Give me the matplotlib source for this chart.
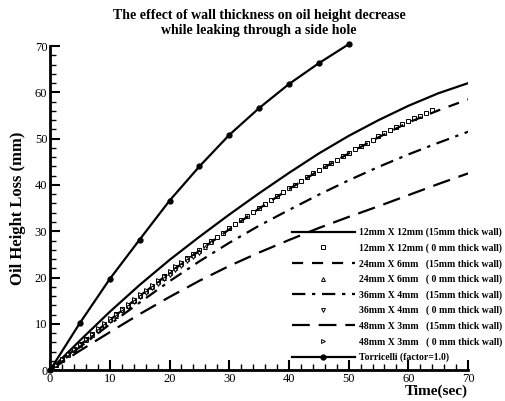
import numpy as np
import matplotlib
matplotlib.use("Agg")
import matplotlib.pyplot as plt
from matplotlib.ticker import MultipleLocator

plt.rcParams['font.family'] = ['Liberation Serif', 'DejaVu Serif']

# time grid for the thick-wall (line) curves, seconds
t_line = [0, 5, 10, 15, 20, 25, 30, 35, 40, 45, 50, 55, 60, 65, 70]
h_12x12_15 = [0, 6.4, 12.6, 18.4, 23.8, 28.8, 33.6, 38.2, 42.6, 46.8, 50.6, 54.0, 57.1, 59.8, 62.0]
h_24x6_15 = [0, 5.4, 10.8, 16.0, 21.0, 25.8, 30.4, 34.9, 39.1, 43.1, 46.8, 50.3, 53.5, 56.1, 58.5]
h_36x4_15 = [0, 5.0, 9.9, 14.6, 19.2, 23.5, 27.5, 31.2, 34.6, 37.9, 41.0, 43.9, 46.6, 49.1, 51.5]
h_48x3_15 = [0, 4.2, 8.2, 12.1, 15.8, 19.3, 22.5, 25.4, 28.1, 30.7, 33.1, 35.4, 37.8, 40.2, 42.5]

# zero-wall curves (markers), sampled each second
t_12x12_0 = list(range(0, 65))
h_12x12_0 = [0, 1.15, 2.3, 3.4, 4.5, 5.6, 6.7, 7.8, 8.9, 9.95,
             11.0, 12.05, 13.1, 14.15, 15.2, 16.2, 17.2, 18.25, 19.3, 20.3,
             21.3, 22.25, 23.2, 24.15, 25.1, 26.05, 27.0, 27.9, 28.8, 29.7,
             30.6, 31.5, 32.4, 33.3, 34.2, 35.05, 35.9, 36.75, 37.6, 38.45,
             39.3, 40.1, 40.9, 41.7, 42.5, 43.25, 44.0, 44.75, 45.5, 46.25,
             47.0, 47.7, 48.4, 49.1, 49.8, 50.5, 51.2, 51.85, 52.5, 53.15,
             53.8, 54.4, 55.0, 55.6, 56.2]
t_24x6_0 = list(range(0, 28))
h_24x6_0 = [0, 1.1, 2.2, 3.3, 4.4, 5.5, 6.5, 7.6, 8.7, 9.7,
            10.8, 11.8, 12.9, 13.9, 15.0, 16.0, 17.0, 18.0, 19.0, 20.0,
            21.0, 22.0, 22.9, 23.9, 24.8, 25.8, 26.7, 27.6]
t_36x4_0 = list(range(0, 26))
h_36x4_0 = [0, 1.1, 2.2, 3.3, 4.3, 5.4, 6.4, 7.5, 8.5, 9.6,
            10.6, 11.6, 12.7, 13.7, 14.7, 15.7, 16.7, 17.7, 18.7, 19.7,
            20.6, 21.6, 22.5, 23.5, 24.4, 25.4]
t_48x3_0 = list(range(0, 24))
h_48x3_0 = [0, 1.2, 2.4, 3.5, 4.6, 5.7, 6.8, 7.9, 9.0, 10.1,
            11.2, 12.2, 13.3, 14.3, 15.4, 16.4, 17.4, 18.4, 19.4, 20.4,
            21.4, 22.4, 23.3, 24.3]

t_torr = [0, 5, 10, 15, 20, 25, 30, 35, 40, 45, 50]
h_torr = [0, 10.2, 19.7, 28.2, 36.6, 44.0, 50.8, 56.6, 61.8, 66.3, 70.4]

fig = plt.figure(figsize=(5.06, 4.01), dpi=100)
ax = fig.add_axes([0.099, 0.077, 0.826, 0.808])

mk = dict(ls='none', ms=2.8, mfc='white', mec='black', mew=0.7)
ax.plot(t_line, h_12x12_15, color='black', lw=1.6, label='12mm X 12mm (15mm thick wall)')
ax.plot(t_12x12_0, h_12x12_0, marker='s', label='12mm X 12mm ( 0 mm thick wall)', **mk)
ax.plot(t_line, h_24x6_15, color='black', lw=1.6, ls=(0, (5, 4)), label='24mm X 6mm   (15mm thick wall)')
ax.plot(t_24x6_0, h_24x6_0, marker='^', label='24mm X 6mm   ( 0 mm thick wall)', **mk)
ax.plot(t_line, h_36x4_15, color='black', lw=1.6, ls=(0, (6, 3, 1.5, 3)), label='36mm X 4mm   (15mm thick wall)')
ax.plot(t_36x4_0, h_36x4_0, marker='v', label='36mm X 4mm   ( 0 mm thick wall)', **mk)
ax.plot(t_line, h_48x3_15, color='black', lw=1.6, ls=(0, (8, 4)), label='48mm X 3mm   (15mm thick wall)')
ax.plot(t_48x3_0, h_48x3_0, marker='>', label='48mm X 3mm   ( 0 mm thick wall)', **mk)
ax.plot(t_torr, h_torr, color='black', lw=1.6, marker='o', ms=3.5, mfc='black', mec='black',
        label='Torricelli (factor=1.0)', clip_on=False)

ax.set_xlim(0, 70)
ax.set_ylim(0, 70)
ax.xaxis.set_major_locator(MultipleLocator(10))
ax.xaxis.set_minor_locator(MultipleLocator(2))
ax.yaxis.set_major_locator(MultipleLocator(10))
ax.yaxis.set_minor_locator(MultipleLocator(2))
ax.tick_params(which='major', direction='in', length=7, width=1.5, labelsize=9, pad=2)
ax.tick_params(which='minor', direction='in', length=4, width=1)
for s in ['top', 'right']:
    ax.spines[s].set_visible(False)
for s in ['left', 'bottom']:
    ax.spines[s].set_linewidth(2)

ax.set_xlabel('Time(sec)', fontsize=11, fontweight='bold', loc='right', labelpad=0)
ax.set_ylabel('Oil Height Loss (mm)', fontsize=12, fontweight='bold', labelpad=6)
ax.set_title('The effect of wall thickness on oil height decrease\nwhile leaking through a side hole',
             fontsize=10, fontweight='bold', linespacing=1.15, pad=9)

leg = ax.legend(loc='lower right', bbox_to_anchor=(1.1, 0.0), frameon=False,
                prop={'family': 'Liberation Serif', 'weight': 'bold', 'size': 7},
                handlelength=6.5, handletextpad=0.4, labelspacing=0.62, borderaxespad=0.4)

fig.savefig('out.png', dpi=100)
